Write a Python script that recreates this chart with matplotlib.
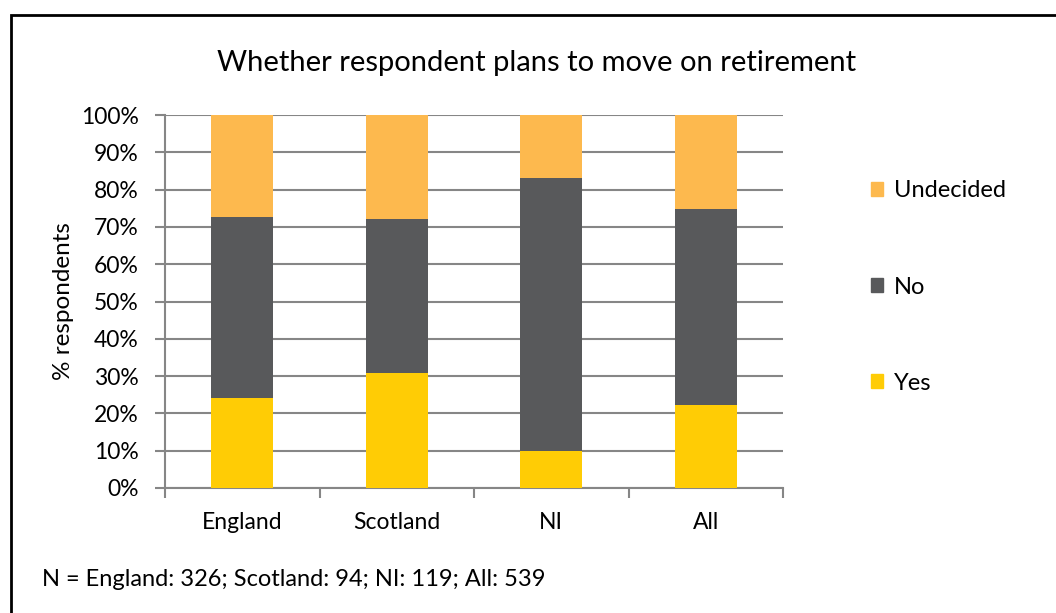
import matplotlib
matplotlib.use("Agg")
import matplotlib.pyplot as plt
from matplotlib.patches import Rectangle, Patch

plt.rcParams['font.family'] = ['Lato', 'DejaVu Sans']

# Доли ответов по регионам (%)
regions = ['England', 'Scotland', 'NI', 'All']
yes = [24.0, 30.7, 9.9, 22.2]
no = [48.6, 41.5, 73.1, 52.7]
undecided = [27.4, 27.8, 17.0, 25.1]
sample_note = 'N = England: 326; Scotland: 94; NI: 119; All: 539'

c_yes = '#FFCC05'
c_no = '#58595B'
c_und = '#FDB94E'
grid_c = '#868686'

fig = plt.figure(figsize=(10.56, 6.13), dpi=100)
ax = fig.add_axes([165 / 1056, 1 - 488 / 613, 618 / 1056, 373 / 613])

x = range(len(regions))
bottom_no = yes
bottom_und = [a + b for a, b in zip(yes, no)]
ax.bar(x, yes, width=0.4, color=c_yes, label='Yes', zorder=3)
ax.bar(x, no, width=0.4, bottom=bottom_no, color=c_no, label='No', zorder=3)
ax.bar(x, undecided, width=0.4, bottom=bottom_und, color=c_und, label='Undecided', zorder=3)

ax.set_xlim(-0.5, len(regions) - 0.5)
ax.set_ylim(0, 100)
ax.set_yticks(range(0, 101, 10))
ax.set_yticklabels([f'{v}%' for v in range(0, 101, 10)], fontsize=16.5)
ax.yaxis.grid(True, color=grid_c, linewidth=1.5, zorder=0)

# Засечки по границам категорий, подписи по центрам
ax.set_xticks([i - 0.5 for i in range(len(regions) + 1)])
ax.set_xticklabels([])
ax.set_xticks(list(x), minor=True)
ax.set_xticklabels(regions, minor=True, fontsize=16.5)
ax.tick_params(axis='x', which='major', direction='out', length=7, width=1.5, color=grid_c)
ax.tick_params(axis='x', which='minor', length=0, pad=17)
ax.tick_params(axis='y', direction='out', length=7, width=1.5, color=grid_c, pad=12)

for s in ['top', 'right']:
    ax.spines[s].set_visible(False)
for s in ['left', 'bottom']:
    ax.spines[s].set_color(grid_c)
    ax.spines[s].set_linewidth(1.5)

ax.set_ylabel('% respondents', fontsize=17.5, labelpad=5)

fig.text(537 / 1056, 1 - 63 / 613, 'Whether respondent plans to move on retirement',
         ha='center', va='center', fontsize=21)
fig.text(42 / 1056, 1 - 580 / 613, sample_note, ha='left', va='center', fontsize=17)

handles = [Patch(color=c_und), Patch(color=c_no), Patch(color=c_yes)]
fig.legend(handles, ['Undecided', 'No', 'Yes'], loc='upper left',
           bbox_to_anchor=(862 / 1056, 1 - 171 / 613), frameon=False, fontsize=17,
           handlelength=0.5, handleheight=0.5, handletextpad=0.45, labelspacing=3.18,
           borderaxespad=0, borderpad=0.4)

# Рамка вокруг диаграммы
fig.patches.append(Rectangle((11 / 1056, -0.05), 1.1, 1 - 15 / 613 + 0.05,
                             transform=fig.transFigure, fill=False,
                             edgecolor='black', linewidth=2))

fig.savefig('out.png', dpi=100)
